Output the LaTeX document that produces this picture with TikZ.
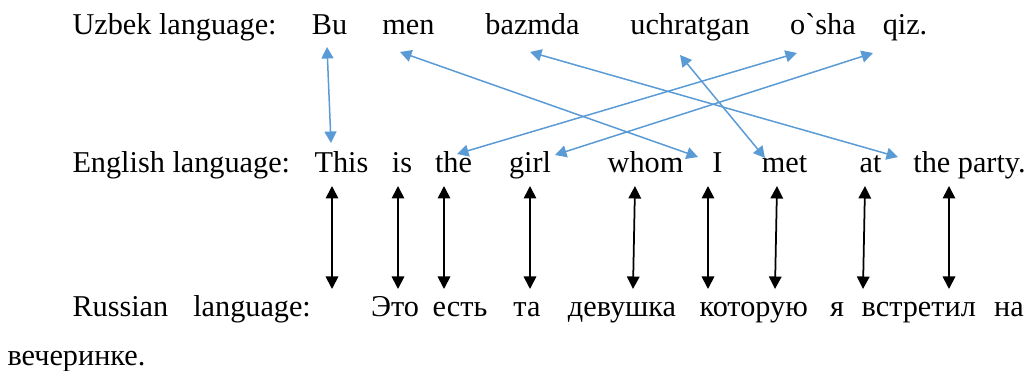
\documentclass[tikz,border=0pt]{standalone}
\usepackage{fontspec}
\newfontfamily\timesfont{Liberation Serif}
\usetikzlibrary{arrows.meta,calc}
\definecolor{linkblue}{RGB}{91,155,213}

\begin{document}
\begin{tikzpicture}[
    x=0.4pt, y=-0.4pt,
    every node/.style={font=\timesfont\fontsize{12.1}{14}\selectfont, inner sep=0pt},
    word/.style={anchor=base},
    rowlabel/.style={anchor=base west},
    uzlink/.style={draw=linkblue, line width=0.6pt,
      {Triangle[length=4.6pt,width=4.8pt]}-{Triangle[length=4.6pt,width=4.8pt]}},
    rulink/.style={draw=black, line width=0.7pt,
      {Triangle[length=5pt,width=5pt]}-{Triangle[length=5pt,width=5pt]}},
  ]
    \useasboundingbox (0,0) rectangle (1033,371);
    \def\yU{35}    % baseline of the Uzbek row
    \def\yE{173}   % baseline of the English row
    \def\yR{317}   % baseline of the Russian row

    % Uzbek row
    \node[rowlabel] (uzlab) at (72,\yU) {Uzbek language:};
    \foreach \n/\x/\t in {Bu/329.5/Bu, men/408.5/men, bazmda/532.5/bazmda,
                          uchratgan/690/uchratgan, osha/823/o`sha, qiz/905/qiz.}
      \node[word] (uz\n) at (\x,\yU) {\t};

    % English row
    \node[rowlabel] (enlab) at (72,\yE) {English language:};
    \foreach \n/\x/\t in {This/341.5/This, is/402/is, the/453.5/the, girl/530/girl,
                          whom/645.5/whom, I/717.5/I, met/784.5/met, at/870.5/at,
                          party/969.5/the party.}
      \node[word] (en\n) at (\x,\yE) {\t};

    % Russian row
    \node[rowlabel] (rulab) at (72,\yR) {Russian\hspace{10pt}language:};
    \foreach \n/\x/\t in {1/395/Это, 2/460/есть, 3/527/та, 4/622/девушка,
                          5/753.7/которую, 6/837/я, 7/918.8/встретил, 8/1009/на}
      \node[word] (ru\n) at (\x,\yR) {\t};
    \node[rowlabel] (ru9) at (7,366) {вечеринке.};

    % Uzbek -- English links
    \draw[uzlink] ($(uzBu.base)+(-2.5,12)$) -- ($(enThis.base)+(-10.5,-30)$);
    \draw[uzlink] ($(uzmen.base)+(-8.5,17)$) -- ($(enI.base)+(-19.5,-16)$);
    \draw[uzlink] ($(enthe.base)+(3.5,-19)$) -- ($(uzosha.base)+(-26,18)$);
    \draw[uzlink] ($(engirl.base)+(25,-18)$) -- ($(uzqiz.base)+(-32,18)$);
    \draw[uzlink] ($(uzbazmda.base)+(-2.5,17)$) -- ($(enparty.base)+(-71.5,-16)$);
    \draw[uzlink] ($(uzuchratgan.base)+(-10,20)$) -- ($(enmet.base)+(-19.5,-15)$);

    % English -- Russian links
    \foreach \n/\a/\b in {This/-9.5/-9.5, is/-4/-4, the/-9.5/-9.5, girl/0/0,
                          whom/-10.5/-12.5, I/-9.5/-9.5, met/-7.5/-9.5,
                          at/-5.5/-7.5, party/-20.5/-20.5}
      \draw[rulink] ($(en\n.base)+(\a,13)$) -- ($(en\n.base)+(\b,116)$);
\end{tikzpicture}
\end{document}
